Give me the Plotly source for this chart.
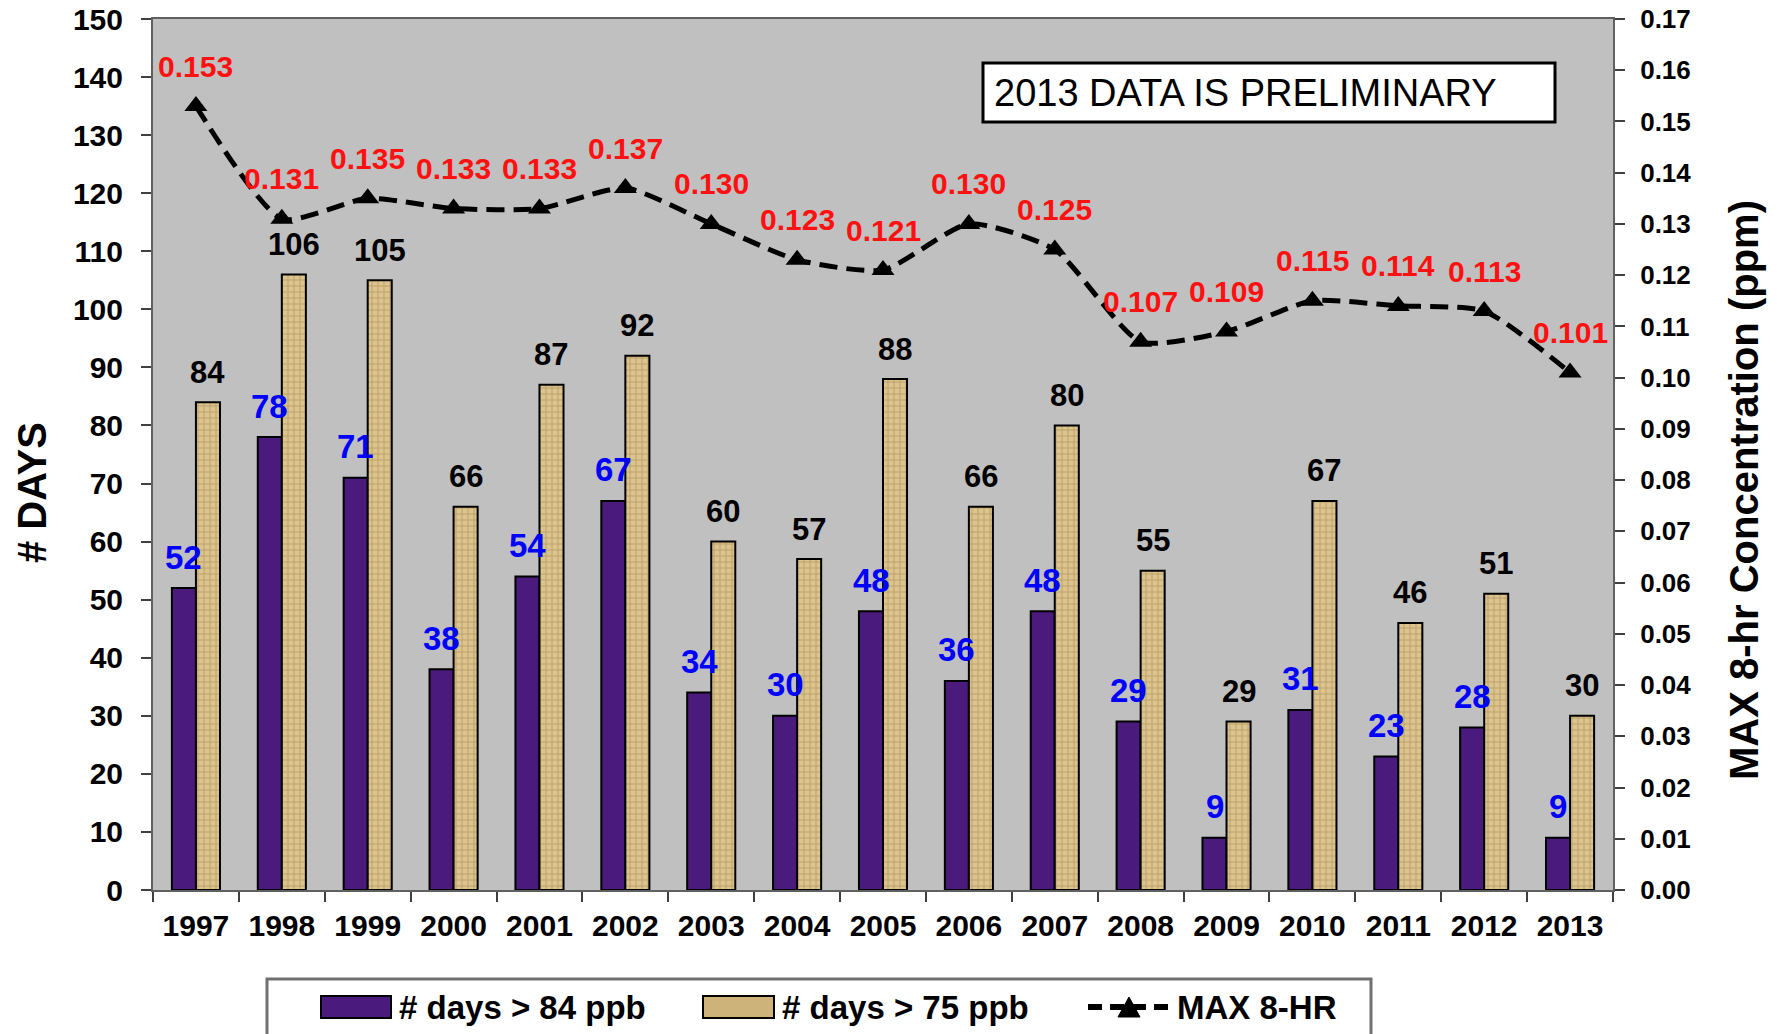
import plotly.graph_objects as go

years = ["1997", "1998", "1999", "2000", "2001", "2002", "2003", "2004", "2005",
         "2006", "2007", "2008", "2009", "2010", "2011", "2012", "2013"]
days_84 = [52, 78, 71, 38, 54, 67, 34, 30, 48, 36, 48, 29, 9, 31, 23, 28, 9]
days_75 = [84, 106, 105, 66, 87, 92, 60, 57, 88, 66, 80, 55, 29, 67, 46, 51, 30]
max_8hr = [0.153, 0.131, 0.135, 0.133, 0.133, 0.137, 0.130, 0.123, 0.121,
           0.130, 0.125, 0.107, 0.109, 0.115, 0.114, 0.113, 0.101]
series_names = ["# days > 84 ppb", "# days > 75 ppb", "MAX 8-HR"]
note_text = "2013 DATA IS PRELIMINARY"
left_title = "# DAYS"
right_title = "MAX 8-hr Concentration (ppm)"

W, H = 1777, 1034
# plot area in page pixels
L, R, T, B = 153, 1613, 19, 890
FONT = "Liberation Sans, Arial, sans-serif"
PURPLE = "#4A1A7C"
TAN = "#DCC48E"


def pxx(x):
    return (x - L) / (R - L)


def pxy(y):
    return (B - y) / (B - T)


fig = go.Figure()
fig.add_trace(go.Bar(x=years, y=days_84, name=series_names[0],
                     marker=dict(color=PURPLE, line=dict(color="black", width=2)),
                     showlegend=False))
fig.add_trace(go.Bar(x=years, y=days_75, name=series_names[1],
                     marker=dict(color=TAN, line=dict(color="black", width=2),
                                 pattern=dict(shape="+", fgcolor="#9A7B45", size=6,
                                              solidity=0.3)),
                     showlegend=False))
fig.add_trace(go.Scatter(x=years, y=max_8hr, name=series_names[2], yaxis="y2",
                         mode="lines+markers",
                         line=dict(color="black", width=5, dash="18px,9px", shape="spline",
                                   smoothing=0.6),
                         marker=dict(symbol="triangle-up", size=20, color="black"),
                         showlegend=False))

ann = []
for i, v in enumerate(days_84):
    ann.append(dict(x=i, y=v, xref="x", yref="y", xshift=-12, yshift=31, text=str(v),
                    showarrow=False, font=dict(family=FONT, size=33, color="#0000FF", weight="bold")))
for i, v in enumerate(days_75):
    ann.append(dict(x=i, y=v, xref="x", yref="y", xshift=12, yshift=30, text=str(v),
                    showarrow=False, font=dict(family=FONT, size=31, color="black", weight="bold")))
for i, v in enumerate(max_8hr):
    ann.append(dict(x=i, y=v, xref="x", yref="y2", yshift=40, text=f"{v:.3f}",
                    showarrow=False, font=dict(family=FONT, size=30, color="#FF1010", weight="bold")))

# axis titles
ann.append(dict(x=pxx(32), y=pxy(492), xref="paper", yref="paper", text=left_title,
                textangle=-90, showarrow=False, xanchor="center", yanchor="middle",
                font=dict(family=FONT, size=40, color="black", weight="bold")))
ann.append(dict(x=pxx(1744), y=pxy(490), xref="paper", yref="paper", text=right_title,
                textangle=-90, showarrow=False, xanchor="center", yanchor="middle",
                font=dict(family=FONT, size=40, color="black", weight="bold")))
# note box text
ann.append(dict(x=pxx(992), y=pxy(93), xref="paper", yref="paper", text=note_text,
                xanchor="left", yanchor="middle", showarrow=False,
                font=dict(family=FONT, size=38, color="black")))

shapes = [
    dict(type="rect", xref="paper", yref="paper", x0=pxx(983), x1=pxx(1555),
         y0=pxy(122), y1=pxy(63), line=dict(color="black", width=3), fillcolor="white",
         layer="above"),
    # legend box
    dict(type="rect", xref="paper", yref="paper", x0=pxx(267), x1=pxx(1371),
         y0=pxy(1045), y1=pxy(979), line=dict(color="#707070", width=3), fillcolor="white"),
    dict(type="rect", xref="paper", yref="paper", x0=pxx(321), x1=pxx(391),
         y0=pxy(1018), y1=pxy(996), line=dict(color="black", width=2), fillcolor=PURPLE),
    dict(type="rect", xref="paper", yref="paper", x0=pxx(703), x1=pxx(774),
         y0=pxy(1018), y1=pxy(996), line=dict(color="black", width=2), fillcolor="#CDB27A"),
    dict(type="line", xref="paper", yref="paper", x0=pxx(1088), x1=pxx(1170),
         y0=pxy(1007), y1=pxy(1007), line=dict(color="black", width=6, dash="14px,8px")),
    dict(type="path", xref="paper", yref="paper",
         path=f"M {pxx(1118)} {pxy(1017)} L {pxx(1140)} {pxy(1017)} L {pxx(1129)} {pxy(997)} Z",
         line=dict(color="black", width=1), fillcolor="black"),
]
for xt, name in zip([397, 780, 1175], series_names):
    ann.append(dict(x=pxx(xt), y=pxy(1007), xref="paper", yref="paper", text=name,
                    xanchor="left", yanchor="middle", showarrow=False,
                    font=dict(family=FONT, size=33, color="black", weight="bold")))

fig.update_layout(
    width=W, height=H,
    margin=dict(l=L, r=W - R, t=T, b=H - B, autoexpand=False),
    paper_bgcolor="white", plot_bgcolor="#C0C0C0",
    barmode="group", bargap=0.44, bargroupgap=0,
    showlegend=False,
    font=dict(family=FONT, color="black"),
    xaxis=dict(type="category", range=[-0.5, len(years) - 0.5], autorange=False,
               showgrid=False, showline=True, linecolor="#606060", linewidth=2,
               mirror=True, ticks="outside", tickson="boundaries", ticklen=10,
               tickcolor="#404040", tickwidth=2, ticklabelstandoff=8, tickangle=0,
               tickfont=dict(family=FONT, size=30, color="black", weight="bold")),
    yaxis=dict(range=[0, 150], dtick=10, showgrid=False, zeroline=False, showline=True,
               linecolor="#606060", linewidth=2, ticks="outside", ticklen=10, tickwidth=2,
               tickcolor="#404040", ticklabelstandoff=12, ticklabeloverflow="allow",
               tickfont=dict(family=FONT, size=30, color="black", weight="bold")),
    yaxis2=dict(range=[0, 0.17], dtick=0.01, tickformat=".2f", overlaying="y", side="right",
                showgrid=False, zeroline=False, showline=True, linecolor="#606060", linewidth=2,
                ticks="outside", ticklen=10, tickwidth=2, tickcolor="#404040",
                ticklabelstandoff=10, ticklabeloverflow="allow",
                tickfont=dict(family=FONT, size=26, color="black", weight="bold")),
    annotations=ann, shapes=shapes,
)

fig.write_html("out.html", config={"displayModeBar": False},
               post_script="document.body.style.margin='0';document.body.style.overflow='hidden';")
